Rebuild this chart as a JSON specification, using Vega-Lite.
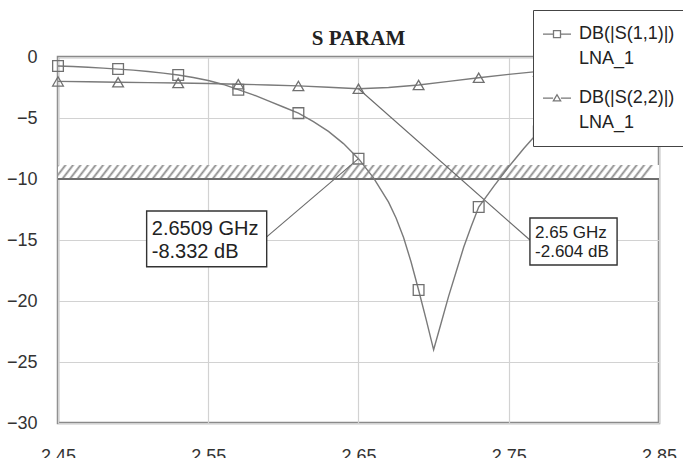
{
  "$schema": "https://vega.github.io/schema/vega-lite/v6.json",
  "width": 601,
  "height": 366,
  "autosize": {"type": "none"},
  "padding": {"left": 58, "top": 57, "right": 24, "bottom": 35},
  "background": "white",
  "view": {"stroke": "#8a8a8a", "strokeWidth": 2.5},
  "config": {"style": {"guide-label": {"lineHeight": 25}}},
  "title": {
    "text": "S PARAM",
    "font": "Liberation Serif",
    "fontSize": 21,
    "fontWeight": "bold",
    "color": "#222",
    "anchor": "middle",
    "baseline": "alphabetic",
    "offset": -56
  },
  "datasets": {
    "curves": [
      {"s": "S11", "f": 2.45, "db": -0.74, "m": true},
      {"s": "S11", "f": 2.46, "db": -0.78, "m": false},
      {"s": "S11", "f": 2.47, "db": -0.84, "m": false},
      {"s": "S11", "f": 2.48, "db": -0.91, "m": false},
      {"s": "S11", "f": 2.49, "db": -0.99, "m": true},
      {"s": "S11", "f": 2.50, "db": -1.08, "m": false},
      {"s": "S11", "f": 2.51, "db": -1.19, "m": false},
      {"s": "S11", "f": 2.52, "db": -1.32, "m": false},
      {"s": "S11", "f": 2.53, "db": -1.48, "m": true},
      {"s": "S11", "f": 2.54, "db": -1.68, "m": false},
      {"s": "S11", "f": 2.55, "db": -1.93, "m": false},
      {"s": "S11", "f": 2.56, "db": -2.25, "m": false},
      {"s": "S11", "f": 2.57, "db": -2.68, "m": true},
      {"s": "S11", "f": 2.58, "db": -3.1, "m": false},
      {"s": "S11", "f": 2.59, "db": -3.6, "m": false},
      {"s": "S11", "f": 2.60, "db": -4.1, "m": false},
      {"s": "S11", "f": 2.61, "db": -4.6, "m": true},
      {"s": "S11", "f": 2.62, "db": -5.3, "m": false},
      {"s": "S11", "f": 2.63, "db": -6.1, "m": false},
      {"s": "S11", "f": 2.64, "db": -7.1, "m": false},
      {"s": "S11", "f": 2.65, "db": -8.332, "m": true},
      {"s": "S11", "f": 2.66, "db": -9.9, "m": false},
      {"s": "S11", "f": 2.67, "db": -11.9, "m": false},
      {"s": "S11", "f": 2.675, "db": -13.2, "m": false},
      {"s": "S11", "f": 2.68, "db": -14.8, "m": false},
      {"s": "S11", "f": 2.685, "db": -16.8, "m": false},
      {"s": "S11", "f": 2.69, "db": -19.1, "m": true},
      {"s": "S11", "f": 2.695, "db": -21.5, "m": false},
      {"s": "S11", "f": 2.70, "db": -24.0, "m": false},
      {"s": "S11", "f": 2.705, "db": -21.8, "m": false},
      {"s": "S11", "f": 2.71, "db": -19.6, "m": false},
      {"s": "S11", "f": 2.715, "db": -17.6, "m": false},
      {"s": "S11", "f": 2.72, "db": -15.6, "m": false},
      {"s": "S11", "f": 2.725, "db": -13.9, "m": false},
      {"s": "S11", "f": 2.73, "db": -12.3, "m": true},
      {"s": "S11", "f": 2.74, "db": -10.6, "m": false},
      {"s": "S11", "f": 2.75, "db": -9.0, "m": false},
      {"s": "S11", "f": 2.76, "db": -7.5, "m": false},
      {"s": "S11", "f": 2.77, "db": -6.1, "m": true},
      {"s": "S11", "f": 2.78, "db": -4.9, "m": false},
      {"s": "S11", "f": 2.79, "db": -3.9, "m": false},
      {"s": "S11", "f": 2.80, "db": -3.1, "m": false},
      {"s": "S11", "f": 2.81, "db": -2.4, "m": true},
      {"s": "S11", "f": 2.82, "db": -1.9, "m": false},
      {"s": "S11", "f": 2.83, "db": -1.5, "m": false},
      {"s": "S11", "f": 2.84, "db": -1.2, "m": false},
      {"s": "S11", "f": 2.85, "db": -1.0, "m": true},
      {"s": "S22", "f": 2.45, "db": -2.0, "m": true},
      {"s": "S22", "f": 2.47, "db": -2.03, "m": false},
      {"s": "S22", "f": 2.49, "db": -2.07, "m": true},
      {"s": "S22", "f": 2.51, "db": -2.1, "m": false},
      {"s": "S22", "f": 2.53, "db": -2.13, "m": true},
      {"s": "S22", "f": 2.55, "db": -2.17, "m": false},
      {"s": "S22", "f": 2.57, "db": -2.23, "m": true},
      {"s": "S22", "f": 2.59, "db": -2.29, "m": false},
      {"s": "S22", "f": 2.61, "db": -2.37, "m": true},
      {"s": "S22", "f": 2.63, "db": -2.48, "m": false},
      {"s": "S22", "f": 2.65, "db": -2.604, "m": true},
      {"s": "S22", "f": 2.67, "db": -2.5, "m": false},
      {"s": "S22", "f": 2.69, "db": -2.3, "m": true},
      {"s": "S22", "f": 2.71, "db": -2.0, "m": false},
      {"s": "S22", "f": 2.73, "db": -1.7, "m": true},
      {"s": "S22", "f": 2.75, "db": -1.42, "m": false},
      {"s": "S22", "f": 2.77, "db": -1.18, "m": true},
      {"s": "S22", "f": 2.79, "db": -1.0, "m": false},
      {"s": "S22", "f": 2.81, "db": -0.88, "m": true},
      {"s": "S22", "f": 2.83, "db": -0.8, "m": false},
      {"s": "S22", "f": 2.85, "db": -0.75, "m": true}
    ],
    "goal": [
      {"f": 2.45, "f2": 2.85, "db": -10, "db2": -8.85}
    ],
    "leaders": [
      {"n": 1, "f": 2.65, "db": -8.332, "f2": 2.5889, "db2": -14.75},
      {"n": 2, "f": 2.65, "db": -2.604, "f2": 2.7641, "db2": -15.0}
    ],
    "boxes": [
      {"n": 1, "f": 2.509, "f2": 2.5889, "db": -12.62, "db2": -17.19},
      {"n": 2, "f": 2.7641, "f2": 2.8221, "db": -13.2, "db2": -17.05}
    ],
    "notes": [
      {"n": 1, "f": 2.5124, "db": -14.59, "t": "2.6509 GHz"},
      {"n": 1, "f": 2.5124, "db": -16.48, "t": "-8.332 dB"},
      {"n": 2, "f": 2.7675, "db": -14.84, "t": "2.65 GHz"},
      {"n": 2, "f": 2.7675, "db": -16.39, "t": "-2.604 dB"}
    ]
  },
  "encoding": {
    "x": {
      "field": "f",
      "type": "quantitative",
      "scale": {"domain": [2.45, 2.85], "nice": false, "zero": false},
      "axis": {
        "title": null,
        "values": [2.45, 2.55, 2.65, 2.75, 2.85],
        "format": ".2f",
        "labelFont": "Liberation Sans",
        "labelFontSize": 18,
        "labelColor": "#333",
        "labelPadding": 24,
        "labelFlush": false,
        "ticks": false,
        "domain": false,
        "grid": true,
        "gridColor": "#d2d2d2",
        "gridWidth": 1.2
      }
    },
    "y": {
      "field": "db",
      "type": "quantitative",
      "scale": {"domain": [-30, 0], "nice": false, "zero": false},
      "axis": {
        "title": null,
        "values": [-30, -25, -20, -15, -10, -5, 0],
        "labelFont": "Liberation Sans",
        "labelFontSize": 18,
        "labelColor": "#333",
        "labelPadding": 21,
        "labelFlush": false,
        "ticks": false,
        "domain": false,
        "grid": true,
        "gridColor": "#d2d2d2",
        "gridWidth": 1.2
      }
    }
  },
  "resolve": {"scale": {"shape": "independent"}, "legend": {"shape": "independent"}},
  "layer": [
    {
      "data": {"name": "goal"},
      "mark": {
        "type": "rect",
        "fill": {
          "gradient": "linear",
          "x1": 0, "y1": 0, "x2": 1, "y2": 0.018,
          "stops": [
            {"offset": 0, "color": "#8c8c8c"}, {"offset": 0.004, "color": "#fff"}, {"offset": 0.009, "color": "#fff"},
            {"offset": 0.0125, "color": "#8c8c8c"}, {"offset": 0.0165, "color": "#fff"}, {"offset": 0.0215, "color": "#fff"},
            {"offset": 0.025, "color": "#8c8c8c"}, {"offset": 0.029, "color": "#fff"}, {"offset": 0.034, "color": "#fff"},
            {"offset": 0.0375, "color": "#8c8c8c"}, {"offset": 0.0415, "color": "#fff"}, {"offset": 0.0465, "color": "#fff"},
            {"offset": 0.05, "color": "#8c8c8c"}, {"offset": 0.054, "color": "#fff"}, {"offset": 0.059, "color": "#fff"},
            {"offset": 0.0625, "color": "#8c8c8c"}, {"offset": 0.0665, "color": "#fff"}, {"offset": 0.0715, "color": "#fff"},
            {"offset": 0.075, "color": "#8c8c8c"}, {"offset": 0.079, "color": "#fff"}, {"offset": 0.084, "color": "#fff"},
            {"offset": 0.0875, "color": "#8c8c8c"}, {"offset": 0.0915, "color": "#fff"}, {"offset": 0.0965, "color": "#fff"},
            {"offset": 0.1, "color": "#8c8c8c"}, {"offset": 0.104, "color": "#fff"}, {"offset": 0.109, "color": "#fff"},
            {"offset": 0.1125, "color": "#8c8c8c"}, {"offset": 0.1165, "color": "#fff"}, {"offset": 0.1215, "color": "#fff"},
            {"offset": 0.125, "color": "#8c8c8c"}, {"offset": 0.129, "color": "#fff"}, {"offset": 0.134, "color": "#fff"},
            {"offset": 0.1375, "color": "#8c8c8c"}, {"offset": 0.1415, "color": "#fff"}, {"offset": 0.1465, "color": "#fff"},
            {"offset": 0.15, "color": "#8c8c8c"}, {"offset": 0.154, "color": "#fff"}, {"offset": 0.159, "color": "#fff"},
            {"offset": 0.1625, "color": "#8c8c8c"}, {"offset": 0.1665, "color": "#fff"}, {"offset": 0.1715, "color": "#fff"},
            {"offset": 0.175, "color": "#8c8c8c"}, {"offset": 0.179, "color": "#fff"}, {"offset": 0.184, "color": "#fff"},
            {"offset": 0.1875, "color": "#8c8c8c"}, {"offset": 0.1915, "color": "#fff"}, {"offset": 0.1965, "color": "#fff"},
            {"offset": 0.2, "color": "#8c8c8c"}, {"offset": 0.204, "color": "#fff"}, {"offset": 0.209, "color": "#fff"},
            {"offset": 0.2125, "color": "#8c8c8c"}, {"offset": 0.2165, "color": "#fff"}, {"offset": 0.2215, "color": "#fff"},
            {"offset": 0.225, "color": "#8c8c8c"}, {"offset": 0.229, "color": "#fff"}, {"offset": 0.234, "color": "#fff"},
            {"offset": 0.2375, "color": "#8c8c8c"}, {"offset": 0.2415, "color": "#fff"}, {"offset": 0.2465, "color": "#fff"},
            {"offset": 0.25, "color": "#8c8c8c"}, {"offset": 0.254, "color": "#fff"}, {"offset": 0.259, "color": "#fff"},
            {"offset": 0.2625, "color": "#8c8c8c"}, {"offset": 0.2665, "color": "#fff"}, {"offset": 0.2715, "color": "#fff"},
            {"offset": 0.275, "color": "#8c8c8c"}, {"offset": 0.279, "color": "#fff"}, {"offset": 0.284, "color": "#fff"},
            {"offset": 0.2875, "color": "#8c8c8c"}, {"offset": 0.2915, "color": "#fff"}, {"offset": 0.2965, "color": "#fff"},
            {"offset": 0.3, "color": "#8c8c8c"}, {"offset": 0.304, "color": "#fff"}, {"offset": 0.309, "color": "#fff"},
            {"offset": 0.3125, "color": "#8c8c8c"}, {"offset": 0.3165, "color": "#fff"}, {"offset": 0.3215, "color": "#fff"},
            {"offset": 0.325, "color": "#8c8c8c"}, {"offset": 0.329, "color": "#fff"}, {"offset": 0.334, "color": "#fff"},
            {"offset": 0.3375, "color": "#8c8c8c"}, {"offset": 0.3415, "color": "#fff"}, {"offset": 0.3465, "color": "#fff"},
            {"offset": 0.35, "color": "#8c8c8c"}, {"offset": 0.354, "color": "#fff"}, {"offset": 0.359, "color": "#fff"},
            {"offset": 0.3625, "color": "#8c8c8c"}, {"offset": 0.3665, "color": "#fff"}, {"offset": 0.3715, "color": "#fff"},
            {"offset": 0.375, "color": "#8c8c8c"}, {"offset": 0.379, "color": "#fff"}, {"offset": 0.384, "color": "#fff"},
            {"offset": 0.3875, "color": "#8c8c8c"}, {"offset": 0.3915, "color": "#fff"}, {"offset": 0.3965, "color": "#fff"},
            {"offset": 0.4, "color": "#8c8c8c"}, {"offset": 0.404, "color": "#fff"}, {"offset": 0.409, "color": "#fff"},
            {"offset": 0.4125, "color": "#8c8c8c"}, {"offset": 0.4165, "color": "#fff"}, {"offset": 0.4215, "color": "#fff"},
            {"offset": 0.425, "color": "#8c8c8c"}, {"offset": 0.429, "color": "#fff"}, {"offset": 0.434, "color": "#fff"},
            {"offset": 0.4375, "color": "#8c8c8c"}, {"offset": 0.4415, "color": "#fff"}, {"offset": 0.4465, "color": "#fff"},
            {"offset": 0.45, "color": "#8c8c8c"}, {"offset": 0.454, "color": "#fff"}, {"offset": 0.459, "color": "#fff"},
            {"offset": 0.4625, "color": "#8c8c8c"}, {"offset": 0.4665, "color": "#fff"}, {"offset": 0.4715, "color": "#fff"},
            {"offset": 0.475, "color": "#8c8c8c"}, {"offset": 0.479, "color": "#fff"}, {"offset": 0.484, "color": "#fff"},
            {"offset": 0.4875, "color": "#8c8c8c"}, {"offset": 0.4915, "color": "#fff"}, {"offset": 0.4965, "color": "#fff"},
            {"offset": 0.5, "color": "#8c8c8c"}, {"offset": 0.504, "color": "#fff"}, {"offset": 0.509, "color": "#fff"},
            {"offset": 0.5125, "color": "#8c8c8c"}, {"offset": 0.5165, "color": "#fff"}, {"offset": 0.5215, "color": "#fff"},
            {"offset": 0.525, "color": "#8c8c8c"}, {"offset": 0.529, "color": "#fff"}, {"offset": 0.534, "color": "#fff"},
            {"offset": 0.5375, "color": "#8c8c8c"}, {"offset": 0.5415, "color": "#fff"}, {"offset": 0.5465, "color": "#fff"},
            {"offset": 0.55, "color": "#8c8c8c"}, {"offset": 0.554, "color": "#fff"}, {"offset": 0.559, "color": "#fff"},
            {"offset": 0.5625, "color": "#8c8c8c"}, {"offset": 0.5665, "color": "#fff"}, {"offset": 0.5715, "color": "#fff"},
            {"offset": 0.575, "color": "#8c8c8c"}, {"offset": 0.579, "color": "#fff"}, {"offset": 0.584, "color": "#fff"},
            {"offset": 0.5875, "color": "#8c8c8c"}, {"offset": 0.5915, "color": "#fff"}, {"offset": 0.5965, "color": "#fff"},
            {"offset": 0.6, "color": "#8c8c8c"}, {"offset": 0.604, "color": "#fff"}, {"offset": 0.609, "color": "#fff"},
            {"offset": 0.6125, "color": "#8c8c8c"}, {"offset": 0.6165, "color": "#fff"}, {"offset": 0.6215, "color": "#fff"},
            {"offset": 0.625, "color": "#8c8c8c"}, {"offset": 0.629, "color": "#fff"}, {"offset": 0.634, "color": "#fff"},
            {"offset": 0.6375, "color": "#8c8c8c"}, {"offset": 0.6415, "color": "#fff"}, {"offset": 0.6465, "color": "#fff"},
            {"offset": 0.65, "color": "#8c8c8c"}, {"offset": 0.654, "color": "#fff"}, {"offset": 0.659, "color": "#fff"},
            {"offset": 0.6625, "color": "#8c8c8c"}, {"offset": 0.6665, "color": "#fff"}, {"offset": 0.6715, "color": "#fff"},
            {"offset": 0.675, "color": "#8c8c8c"}, {"offset": 0.679, "color": "#fff"}, {"offset": 0.684, "color": "#fff"},
            {"offset": 0.6875, "color": "#8c8c8c"}, {"offset": 0.6915, "color": "#fff"}, {"offset": 0.6965, "color": "#fff"},
            {"offset": 0.7, "color": "#8c8c8c"}, {"offset": 0.704, "color": "#fff"}, {"offset": 0.709, "color": "#fff"},
            {"offset": 0.7125, "color": "#8c8c8c"}, {"offset": 0.7165, "color": "#fff"}, {"offset": 0.7215, "color": "#fff"},
            {"offset": 0.725, "color": "#8c8c8c"}, {"offset": 0.729, "color": "#fff"}, {"offset": 0.734, "color": "#fff"},
            {"offset": 0.7375, "color": "#8c8c8c"}, {"offset": 0.7415, "color": "#fff"}, {"offset": 0.7465, "color": "#fff"},
            {"offset": 0.75, "color": "#8c8c8c"}, {"offset": 0.754, "color": "#fff"}, {"offset": 0.759, "color": "#fff"},
            {"offset": 0.7625, "color": "#8c8c8c"}, {"offset": 0.7665, "color": "#fff"}, {"offset": 0.7715, "color": "#fff"},
            {"offset": 0.775, "color": "#8c8c8c"}, {"offset": 0.779, "color": "#fff"}, {"offset": 0.784, "color": "#fff"},
            {"offset": 0.7875, "color": "#8c8c8c"}, {"offset": 0.7915, "color": "#fff"}, {"offset": 0.7965, "color": "#fff"},
            {"offset": 0.8, "color": "#8c8c8c"}, {"offset": 0.804, "color": "#fff"}, {"offset": 0.809, "color": "#fff"},
            {"offset": 0.8125, "color": "#8c8c8c"}, {"offset": 0.8165, "color": "#fff"}, {"offset": 0.8215, "color": "#fff"},
            {"offset": 0.825, "color": "#8c8c8c"}, {"offset": 0.829, "color": "#fff"}, {"offset": 0.834, "color": "#fff"},
            {"offset": 0.8375, "color": "#8c8c8c"}, {"offset": 0.8415, "color": "#fff"}, {"offset": 0.8465, "color": "#fff"},
            {"offset": 0.85, "color": "#8c8c8c"}, {"offset": 0.854, "color": "#fff"}, {"offset": 0.859, "color": "#fff"},
            {"offset": 0.8625, "color": "#8c8c8c"}, {"offset": 0.8665, "color": "#fff"}, {"offset": 0.8715, "color": "#fff"},
            {"offset": 0.875, "color": "#8c8c8c"}, {"offset": 0.879, "color": "#fff"}, {"offset": 0.884, "color": "#fff"},
            {"offset": 0.8875, "color": "#8c8c8c"}, {"offset": 0.8915, "color": "#fff"}, {"offset": 0.8965, "color": "#fff"},
            {"offset": 0.9, "color": "#8c8c8c"}, {"offset": 0.904, "color": "#fff"}, {"offset": 0.909, "color": "#fff"},
            {"offset": 0.9125, "color": "#8c8c8c"}, {"offset": 0.9165, "color": "#fff"}, {"offset": 0.9215, "color": "#fff"},
            {"offset": 0.925, "color": "#8c8c8c"}, {"offset": 0.929, "color": "#fff"}, {"offset": 0.934, "color": "#fff"},
            {"offset": 0.9375, "color": "#8c8c8c"}, {"offset": 0.9415, "color": "#fff"}, {"offset": 0.9465, "color": "#fff"},
            {"offset": 0.95, "color": "#8c8c8c"}, {"offset": 0.954, "color": "#fff"}, {"offset": 0.959, "color": "#fff"},
            {"offset": 0.9625, "color": "#8c8c8c"}, {"offset": 0.9665, "color": "#fff"}, {"offset": 0.9715, "color": "#fff"},
            {"offset": 0.975, "color": "#8c8c8c"}, {"offset": 0.979, "color": "#fff"}, {"offset": 0.984, "color": "#fff"},
            {"offset": 0.9875, "color": "#8c8c8c"}, {"offset": 0.9915, "color": "#fff"}, {"offset": 1, "color": "#fff"}
          ]
        }
      },
      "encoding": {"x2": {"field": "f2"}, "y2": {"field": "db2"}}
    },
    {
      "data": {"name": "goal"},
      "mark": {"type": "rule", "color": "#6e6e6e", "strokeWidth": 2},
      "encoding": {"x2": {"field": "f2"}}
    },
    {
      "data": {"name": "leaders"},
      "mark": {"type": "rule", "color": "#6a6a6a", "strokeWidth": 1.1},
      "encoding": {"x2": {"field": "f2"}, "y2": {"field": "db2"}}
    },
    {
      "data": {"name": "curves"},
      "mark": {"type": "line", "color": "#7a7a7a", "strokeWidth": 1.4, "interpolate": "linear"},
      "encoding": {"detail": {"field": "s"}}
    },
    {
      "data": {"name": "curves"},
      "transform": [{"filter": "datum.m"}],
      "mark": {"type": "point", "filled": false, "color": "#707070", "strokeWidth": 1.3, "size": 115, "opacity": 1},
      "encoding": {
        "shape": {
          "field": "s",
          "type": "nominal",
          "scale": {"domain": ["S11", "S22"], "range": ["square", "triangle-up"]},
          "legend": null
        }
      }
    },
    {
      "data": {"name": "curves"},
      "transform": [{"filter": "datum.f > 3"}],
      "mark": {"type": "point", "filled": false, "color": "#777", "strokeWidth": 1.3, "opacity": 1},
      "encoding": {
        "shape": {
          "field": "s",
          "type": "nominal",
          "scale": {
            "domain": ["S11", "S22"],
            "range": [
              "M-1.357,-0.35H-0.607M-0.107,-0.35H0.643M-0.607,-0.6H-0.107V-0.1H-0.607Z",
              "M-1.357,-0.35H-0.637M-0.077,-0.35H0.643M-0.617,-0.15L-0.357,-0.59L-0.097,-0.15Z"
            ]
          },
          "legend": {
            "orient": "none",
            "legendX": 475,
            "legendY": -47,
            "title": null,
            "fillColor": "white",
            "strokeColor": "#444",
            "padding": 14,
            "rowPadding": 20,
            "symbolSize": 784,
            "symbolStrokeWidth": 1.3,
            "symbolStrokeColor": "#777",
            "symbolFillColor": "transparent",
            "labelFont": "Liberation Sans",
            "labelFontSize": 18,
            "labelColor": "#222",
            "labelOffset": 2,
            "labelLimit": 0,
            "labelBaseline": "alphabetic",
            "labelExpr": "datum.value == 'S11' ? ['DB(|S(1,1)|)', 'LNA_1'] : ['DB(|S(2,2)|)', 'LNA_1']",
            "zindex": 5
          }
        }
      }
    },
    {
      "data": {"name": "boxes"},
      "mark": {"type": "rect", "fill": "#555", "xOffset": 3, "yOffset": 3},
      "encoding": {"x2": {"field": "f2"}, "y2": {"field": "db2"}}
    },
    {
      "data": {"name": "boxes"},
      "mark": {"type": "rect", "fill": "white", "stroke": "#333", "strokeWidth": 1.4},
      "encoding": {"x2": {"field": "f2"}, "y2": {"field": "db2"}}
    },
    {
      "data": {"name": "notes"},
      "transform": [{"filter": "datum.n == 1"}],
      "mark": {"type": "text", "align": "left", "baseline": "alphabetic", "font": "Liberation Sans", "fontSize": 20, "color": "#222"},
      "encoding": {"text": {"field": "t"}}
    },
    {
      "data": {"name": "notes"},
      "transform": [{"filter": "datum.n == 2"}],
      "mark": {"type": "text", "align": "left", "baseline": "alphabetic", "font": "Liberation Sans", "fontSize": 17, "color": "#222"},
      "encoding": {"text": {"field": "t"}}
    }
  ]
}
